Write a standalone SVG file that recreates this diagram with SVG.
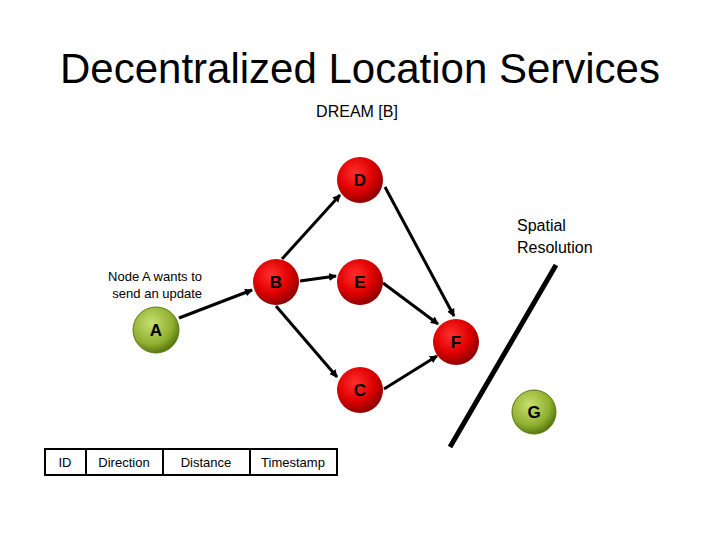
<svg xmlns="http://www.w3.org/2000/svg" width="720" height="540" viewBox="0 0 720 540">
<style>
text{font-family:"Liberation Sans",Arial,sans-serif;fill:#000}
.n{font-weight:bold;font-size:17px;text-anchor:middle}
.c{stroke:#000;stroke-width:3;fill:none;marker-end:url(#ah)}
</style>
<defs>
<radialGradient id="red" cx="40%" cy="35%" r="65%"><stop offset="0" stop-color="#ff3030"/><stop offset="0.6" stop-color="#e00000"/><stop offset="1" stop-color="#900000"/></radialGradient>
<radialGradient id="grn" cx="40%" cy="35%" r="65%"><stop offset="0" stop-color="#c8e070"/><stop offset="0.7" stop-color="#90b030"/><stop offset="1" stop-color="#5a7a10"/></radialGradient>
<marker id="ah" markerWidth="8" markerHeight="8" refX="7" refY="4" orient="auto" markerUnits="userSpaceOnUse" viewBox="0 0 8 8"><path d="M0,0L8,4L0,8z" fill="#000"/></marker>
</defs>
<rect width="720" height="540" fill="#fff"/>
<text x="360" y="83" font-size="42" text-anchor="middle">Decentralized Location Services</text>
<text x="357" y="117" font-size="16" text-anchor="middle">DREAM [B]</text>
<text x="517" y="231" font-size="16">Spatial</text>
<text x="517" y="253" font-size="16">Resolution</text>
<text x="202" y="281" font-size="13" text-anchor="end">Node A wants to</text>
<text x="202" y="298" font-size="13" text-anchor="end">send an update</text>
<g id="connectors">
<line class="c" x1="179" y1="318" x2="252" y2="290"/>
<line class="c" x1="282" y1="259" x2="340" y2="195"/>
<line class="c" x1="300" y1="281" x2="336" y2="276"/>
<line class="c" x1="276" y1="306" x2="337" y2="377"/>
<line class="c" x1="385" y1="187" x2="454" y2="316"/>
<line class="c" x1="383" y1="283" x2="438" y2="324"/>
<line class="c" x1="384" y1="389" x2="437" y2="356"/>
</g>
<line x1="556" y1="265" x2="450" y2="447" stroke="#000" stroke-width="5"/>
<g id="D"><circle cx="360" cy="180" r="23" fill="url(#red)"/><text class="n" x="360" y="186">D</text></g>
<g id="B"><circle cx="276" cy="282" r="23" fill="url(#red)"/><text class="n" x="276" y="288">B</text></g>
<g id="E"><circle cx="360" cy="282" r="23" fill="url(#red)"/><text class="n" x="360" y="288">E</text></g>
<g id="A"><circle cx="156" cy="330" r="23" fill="url(#grn)" stroke="#5a7a10"/><text class="n" x="156" y="336">A</text></g>
<g id="F"><circle cx="456" cy="342" r="23" fill="url(#red)"/><text class="n" x="456" y="348">F</text></g>
<g id="C"><circle cx="360" cy="390" r="23" fill="url(#red)"/><text class="n" x="360" y="396">C</text></g>
<g id="G"><circle cx="534" cy="412" r="22" fill="url(#grn)" stroke="#5a7a10"/><text class="n" x="534" y="418">G</text></g>
<g id="table" font-size="13">
<rect x="45" y="449" width="292" height="26" fill="#fff" stroke="#000" stroke-width="2"/>
<line x1="86" y1="449" x2="86" y2="475" stroke="#000" stroke-width="2"/>
<line x1="163" y1="449" x2="163" y2="475" stroke="#000" stroke-width="2"/>
<line x1="250" y1="449" x2="250" y2="475" stroke="#000" stroke-width="2"/>
<text x="65" y="467" text-anchor="middle">ID</text>
<text x="124" y="467" text-anchor="middle">Direction</text>
<text x="206" y="467" text-anchor="middle">Distance</text>
<text x="293" y="467" text-anchor="middle">Timestamp</text>
</g>
</svg>
